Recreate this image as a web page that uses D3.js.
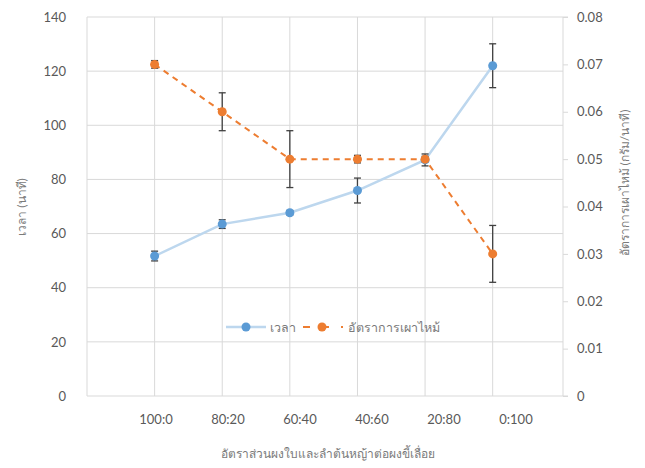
<!DOCTYPE html>
<html><head><meta charset="utf-8">
<script src="https://cdn.jsdelivr.net/npm/d3@7/dist/d3.min.js"></script>
<style>body{margin:0;background:#fff}svg{display:block}text{font-family:Lato,"Noto Sans","DejaVu Sans",sans-serif;fill:#595959}</style>
</head><body><svg id="c" width="645" height="468"></svg>
<script>
const categories = ["100:0","80:20","60:40","40:60","20:80","0:100"];
const timeValues = [51.7, 63.5, 67.7, 75.9, 87.2, 122];
const timeErrors = [1.8, 1.6, 0.8, 4.6, 2.2, 8.1];
const rateValues = [0.070, 0.060, 0.050, 0.050, 0.050, 0.030];
const rateErrors = [0.0008, 0.004, 0.006, 0.0008, 0.0006, 0.006];
const leftTicks = [0,20,40,60,80,100,120,140];
const rightTicks = [0,0.01,0.02,0.03,0.04,0.05,0.06,0.07,0.08];
const seriesNames = ["เวลา","อัตราการเผาไหม้"];
const leftTitle = "เวลา (นาที)";
const rightTitle = "อัตราการเผาไหม้ (กรัม/นาที)";
const xTitle = "อัตราส่วนผงใบและลำต้นหญ้าต่อผงขี้เลื่อย";

const svg = d3.select("#c");
const L = 87, R = 563, T = 17, B = 396;
const x = d3.scaleLinear().domain([0, 7.04]).range([L, R]);
const xl = d3.scalePoint().domain(categories).range([156, 516]);
const yL = d3.scaleLinear().domain([0,140]).range([B, T]);
const yR = d3.scaleLinear().domain([0,0.08]).range([B, T]);
const blue = "#5B9BD5", orange = "#ED7D31", grid = "#d9d9d9", thai = "#7a7a7a";

// horizontal grid
svg.append("g").selectAll("line").data(leftTicks).join("line")
  .attr("x1", L).attr("x2", R).attr("y1", d=>yL(d)).attr("y2", d=>yL(d))
  .attr("stroke", grid).attr("stroke-width", 1);
// vertical grid
svg.append("g").selectAll("line").data(d3.range(0, 7)).join("line")
  .attr("x1", d=>x(d)).attr("x2", d=>x(d)).attr("y1", T).attr("y2", B)
  .attr("stroke", grid).attr("stroke-width", 1);
// right axis
const ra = svg.append("g").attr("transform", `translate(${R},0)`)
  .call(d3.axisRight(yR).tickValues(rightTicks).tickSize(5).tickFormat(d=>d===0?"0":d3.format(".2f")(d)).tickPadding(9));
ra.select(".domain").attr("stroke", grid).attr("d", `M5,${T}H0V${B}H5`);
ra.selectAll(".tick line").attr("stroke", grid);
ra.selectAll(".tick text").attr("font-size", 13).style("fill","#595959").attr("font-family","Lato");
// left axis labels
const la = svg.append("g").attr("transform", `translate(${L},0)`)
  .call(d3.axisLeft(yL).tickValues(leftTicks).tickSize(0).tickPadding(21));
la.select(".domain").remove();
la.selectAll(".tick text").attr("font-size", 13).style("fill","#595959").attr("font-family","Lato");
// x labels
svg.append("g").selectAll("text").data(categories).join("text")
  .attr("x", d=>xl(d)).attr("y", 424).attr("text-anchor","middle").attr("font-size",13).text(d=>d);

// blue line
const line = d3.line().x((d,i)=>x(i+1)).y(d=>yL(d));
svg.append("path").datum(timeValues).attr("d", line).attr("fill","none")
  .attr("stroke","#bdd7ee").attr("stroke-width",2.5);
// orange dashed
const line2 = d3.line().x((d,i)=>x(i+1)).y(d=>yR(d));
svg.append("path").datum(rateValues).attr("d", line2).attr("fill","none")
  .attr("stroke",orange).attr("stroke-width",2).attr("stroke-dasharray","6,5");

function errBars(vals, errs, y) {
  const g = svg.append("g").attr("stroke","#404040").attr("stroke-width",1.3);
  vals.forEach((v,i)=>{
    const cx = x(i+1), y1 = y(v+errs[i]), y2 = y(v-errs[i]);
    g.append("line").attr("x1",cx).attr("x2",cx).attr("y1",y1).attr("y2",y2);
    g.append("line").attr("x1",cx-3.5).attr("x2",cx+3.5).attr("y1",y1).attr("y2",y1);
    g.append("line").attr("x1",cx-3.5).attr("x2",cx+3.5).attr("y1",y2).attr("y2",y2);
  });
}
errBars(timeValues, timeErrors, yL);
errBars(rateValues, rateErrors, yR);
svg.append("g").selectAll("circle").data(timeValues).join("circle")
  .attr("cx",(d,i)=>x(i+1)).attr("cy",d=>yL(d)).attr("r",4.5).attr("fill",blue);
svg.append("g").selectAll("circle").data(rateValues).join("circle")
  .attr("cx",(d,i)=>x(i+1)).attr("cy",d=>yR(d)).attr("r",4.5).attr("fill",orange);

// legend
const lg = svg.append("g");
lg.append("line").attr("x1",226).attr("x2",266).attr("y1",327).attr("y2",327).attr("stroke","#bdd7ee").attr("stroke-width",2.5);
lg.append("circle").attr("cx",246).attr("cy",327).attr("r",4.5).attr("fill",blue);
lg.append("text").attr("x",270).attr("y",332).attr("font-size",12.5).style("fill",thai).text(seriesNames[0]);
lg.append("line").attr("x1",303).attr("x2",343).attr("y1",327).attr("y2",327).attr("stroke",orange).attr("stroke-width",2).attr("stroke-dasharray","7,12");
lg.append("circle").attr("cx",322).attr("cy",327).attr("r",4.5).attr("fill",orange);
lg.append("text").attr("x",348).attr("y",332).attr("font-size",12.5).style("fill",thai).text(seriesNames[1]);

// titles
svg.append("text").attr("transform","translate(26,207) rotate(-90)").attr("text-anchor","middle").attr("font-size",12).style("fill",thai).text(leftTitle);
svg.append("text").attr("transform","translate(629,183) rotate(-90)").attr("text-anchor","middle").attr("font-size",12).style("fill",thai).text(rightTitle);
svg.append("text").attr("x",328).attr("y",458).attr("text-anchor","middle").attr("font-size",12).style("fill",thai).text(xTitle);
</script></body></html>
